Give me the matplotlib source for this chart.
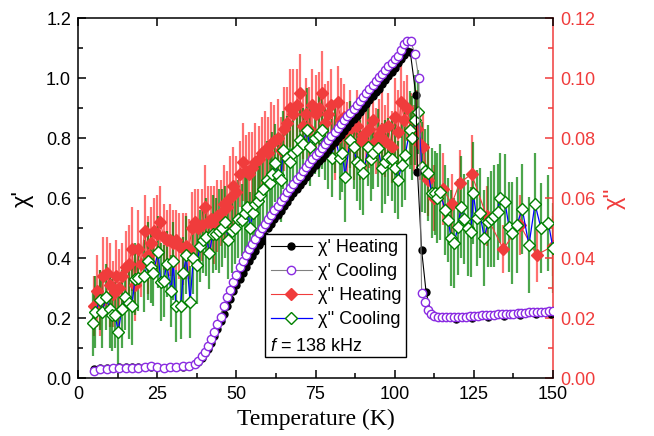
import matplotlib
matplotlib.use("Agg")
import matplotlib.pyplot as plt
from matplotlib.lines import Line2D
from matplotlib.ticker import MultipleLocator

# chi' heating (K, SI units)
T_h = [5, 7, 9, 11, 13, 15, 17, 19, 21, 23, 25, 27, 29, 31, 33, 35,
       37, 38, 39, 40, 41, 42, 43, 44, 45, 46, 47, 48, 49, 50, 51, 52, 53, 54,
       55, 56, 57, 58, 59, 60, 61, 62, 63, 64, 65, 66, 67, 68, 69, 70, 71, 72,
       73, 74, 75, 76, 77, 78, 79, 80, 81, 82, 83, 84, 85, 86, 87, 88, 89, 90,
       91, 92, 93, 94, 95, 96, 97, 98, 99, 100, 101, 102, 103, 104, 104.9,
       106.7, 107.2, 108.5, 109.9, 111.5, 114.5, 119.5, 124.5, 129.5, 134.5,
       139.5, 144.7, 149.5]
chi1_h = [.030, .032, .034, .035, .036, .036, .036, .037, .038, .037, .036, .035, .036, .036, .037, .040,
          .047, .055, .068, .082, .098, .118, .140, .165, .190, .215, .240, .265, .290, .310, .330, .350, .370, .390,
          .408, .425, .442, .458, .474, .500, .515, .529, .544, .558, .573, .587, .602, .616, .631, .645, .658, .671,
          .684, .697, .709, .722, .735, .748, .760, .773, .786, .799, .811, .824, .837, .850, .862, .875, .888, .901,
          .914, .927, .940, .952, .965, .979, .993, 1.007, 1.021, 1.035, 1.049, 1.063, 1.077, 1.090, 1.088,
          .943, .688, .427, .288, .212, .203, .198, .201, .204, .207,
          .210, .212, .214]

# chi' cooling
T_c = [5, 7, 9, 11, 13, 15, 17, 19, 21, 23, 25, 27, 29, 31, 33, 35,
       37, 38, 39, 40, 41, 42, 43, 44, 45, 46, 47, 48, 49, 50, 51, 52, 53, 54,
       55, 56, 57, 58, 59, 60, 61, 62, 63, 64, 65, 66, 67, 68, 69, 70, 71, 72,
       73, 74, 75, 76, 77, 78, 79, 80, 81, 82, 83, 84, 85, 86, 87, 88, 89, 90,
       91, 92, 93, 94, 95, 96, 97, 98, 99, 100, 101, 102, 103, 104, 105,
       106.4, 107.6, 108.5, 109.5, 110.5, 111.5, 112.5, 113.8, 115, 116.3, 117.5,
       118.8, 120, 121.3, 122.5, 123.8, 125, 126.3, 127.5, 128.8, 130, 131.3,
       132.5, 133.8, 135, 136.3, 137.5, 138.8, 140, 141.3, 142.5, 143.8, 145,
       146.3, 147.5, 148.8, 150]
chi1_c = [.025, .030, .031, .032, .033, .033, .034, .035, .037, .040, .036, .034, .036, .038, .039, .041,
          .048, .058, .072, .088, .108, .130, .155, .180, .205, .240, .270, .295, .320, .345, .370, .390, .410, .430,
          .448, .465, .482, .499, .515, .530, .545, .560, .575, .590, .605, .620, .634, .648, .662, .675, .689, .702,
          .716, .729, .742, .755, .768, .781, .794, .807, .820, .833, .846, .859, .872, .885, .898, .911, .924, .937,
          .950, .963, .976, .989, 1.002, 1.015, 1.028, 1.040, 1.050, 1.062, 1.075, 1.093, 1.112, 1.123, 1.125,
          1.080, 1.000, .284, .254, .228, .213, .207, .204, .202, .202, .202,
          .202, .203, .204, .205, .206, .207, .208, .209, .209, .210, .211,
          .212, .213, .214, .215, .215, .216, .217, .218, .219, .219, .220,
          .221, .221, .222, .222]

# chi'' heating
T_hh = list(range(5, 110)) + [110.5, 112.5, 115.3, 118, 120.5, 124.3, 129, 134.3, 139.6, 144.8, 150]
chi2_h = [.024, .029, .025, .034, .035, .031, .028, .034, .030, .034,
          .037, .038, .043, .031, .043, .038, .049, .041, .045, .049,
          .048, .052, .047, .046, .046, .045, .046, .044, .043, .044,
          .043, .050, .052, .050, .051, .057, .052, .053, .051, .054,
          .055, .058, .057, .060, .064, .062, .068, .072, .069, .068,
          .070, .072, .073, .075, .076, .075, .078, .079, .080, .076,
          .083, .085, .090, .088, .091, .095, .084, .088, .083, .091,
          .088, .090, .095, .085, .088, .091, .079, .092, .086, .087,
          .080, .083, .077, .084, .079, .081, .078, .083, .086, .079,
          .081, .083, .079, .084, .077, .087, .082, .092, .086, .090,
          .083, .080, .083, .078, .077,
          .066, .060, .063, .058, .065, .068, .054, .043, .051, .041, .044]
err2_h = [.010, .012, .011, .013, .012, .014, .011, .012, .013, .011,
          .012, .013, .014, .012, .013, .011, .012, .013, .012, .011,
          .013, .012, .011, .010, .012, .011, .010, .011, .012, .011,
          .010, .012, .011, .013, .012, .014, .012, .011, .013, .012,
          .011, .013, .012, .014, .013, .012, .011, .013, .012, .014,
          .012, .013, .011, .012, .013, .012, .014, .012, .013, .011,
          .014, .012, .013, .015, .012, .013, .011, .012, .014, .012,
          .013, .012, .014, .013, .011, .012, .013, .012, .014, .011,
          .012, .013, .011, .012, .013, .012, .011, .013, .012, .011,
          .012, .013, .012, .011, .012, .013, .014, .012, .013, .011,
          .012, .011, .013, .012, .011,
          .012, .011, .012, .010, .011, .013, .010, .008, .010, .009, .010]

# chi'' cooling
T_cc = [4.8, 5.5, 6.9, 7.6, 8.9, 10.0, 10.7, 11.7, 12.7, 13.8,
        14.8, 16.0, 17.0, 18.0, 19.0, 20.9, 22.2, 23.0, 23.7, 25.3,
        26.1, 27.1, 28.0, 29.4, 30.1, 30.9, 32.4, 33.3, 34.2, 35.4,
        36.4, 37.5, 38.5, 39.4, 40.5, 41.5, 42.5, 43.5, 44.5, 45.5,
        46.4, 47.5, 48.6, 49.5, 50.5, 51.8, 52.8, 53.5, 54.3, 55.2,
        55.9, 56.8, 57.5, 58.5, 59.6, 60.5, 61.2, 62.2, 63.2, 64.0,
        64.8, 65.9, 67.0, 68.0, 69.0, 70.1, 71.0, 72.2, 73.3, 74.8,
        76.0, 77.0, 78.0, 79.0, 80.1, 81.2, 82.7, 83.5, 84.3, 85.9,
        87.0, 88.0, 89.0, 90.1, 91.7, 92.5, 93.2, 94.8, 95.9, 97.0,
        98.0, 99.0, 100.0, 101.1, 102.2, 103.3, 104.8, 105.5, 106.4, 107.5,
        108.5, 109.5, 110.6, 111.7, 112.7, 113.5, 114.3, 115.9, 116.9, 117.8,
        118.8, 119.9, 121.0, 122.0, 123.0, 124.1, 124.8, 125.9, 126.9, 128.3,
        129.4, 130.5, 131.5, 132.5, 133.2, 134.8, 136.1, 137.2, 138.5, 140.3,
        142.4, 144.3, 146.2, 148.5, 150.0]
chi2_c = [.0184, .022, .026, .022, .027, .023, .021, .021, .0154, .023,
          .027, .025, .024, .033, .0333, .034, .039, .037, .035, .042,
          .032, .0325, .038, .029, .039, .024, .024, .035, .041, .0255,
          .040, .0377, .044, .046, .047, .0416, .048, .048, .049, .050,
          .052, .046, .049, .050, .053, .0527, .055, .057, .0499, .055,
          .058, .059, .061, .063, .066, .065, .068, .0716, .0677, .066,
          .076, .0732, .072, .075, .076, .0793, .078, .0827, .0771, .080,
          .081, .0827, .078, .0771, .0732, .0804, .0732, .075, .0671, .0793,
          .0771, .0721, .071, .0682, .0771, .073, .0749, .0766, .0699, .072,
          .0738, .073, .070, .066, .071, .0743, .0827, .080, .086, .0888,
          .0704, .069, .0682, .0616, .0616, .060, .0621, .056, .0527, .0466,
          .0449, .0502, .0571, .0529, .0499, .0488, .0618, .0532, .0549, .0466,
          .0521, .053, .054, .0554, .0599, .0588, .0504, .0484, .051, .0562,
          .0443, .058, .0499, .0518, .0432]
err2_c = [.011, .012, .010, .012, .011, .013, .012, .011, .012, .013,
          .011, .012, .013, .012, .011, .012, .013, .012, .011, .012,
          .013, .012, .011, .012, .013, .012, .011, .012, .013, .012,
          .012, .013, .012, .011, .013, .012, .013, .012, .014, .013,
          .012, .013, .014, .012, .013, .012, .014, .013, .012, .013,
          .014, .013, .012, .014, .013, .012, .014, .013, .012, .014,
          .013, .014, .012, .013, .014, .013, .012, .014, .013, .012,
          .014, .013, .012, .014, .013, .012, .014, .013, .015, .013,
          .014, .013, .015, .014, .013, .014, .012, .013, .015, .014,
          .013, .014, .015, .013, .014, .015, .013, .014, .015, .014,
          .015, .014, .016, .015, .014, .015, .016, .015, .014, .016,
          .015, .016, .017, .015, .016, .015, .017, .016, .015, .016,
          .015, .016, .017, .016, .015, .016, .015, .017, .016, .015,
          .016, .017, .015, .016, .015]

RED = "#f03c3c"
PURPLE = "#8a2be2"
GREEN = "#008000"

plt.rcParams["font.family"] = ["Liberation Sans", "DejaVu Sans"]
plt.rcParams["mathtext.fontset"] = "custom"
plt.rcParams["mathtext.it"] = "Liberation Sans:italic"
plt.rcParams["mathtext.rm"] = "Liberation Sans"

fig = plt.figure(figsize=(6.54, 4.36), dpi=100)
ax = fig.add_axes([0.1193, 0.1330, 0.7263, 0.8257])
ax2 = ax.twinx()
ax.set_zorder(ax2.get_zorder() + 1)
ax.patch.set_visible(False)

# chi'' (right axis)
ax2.errorbar(T_hh, chi2_h, yerr=err2_h, fmt="none", ecolor=(1.0, 0.2, 0.2, 0.7),
             elinewidth=1.6, zorder=1)
ax2.errorbar(T_cc, chi2_c, yerr=err2_c, fmt="none", ecolor=(0.0, 0.5, 0.0, 0.7),
             elinewidth=1.6, zorder=1.5)
h3, = ax2.plot(T_hh, chi2_h, "-D", color=RED, lw=0.8, ms=6.5, mec=RED, mfc=RED, zorder=2)
h4, = ax2.plot(T_cc, chi2_c, "-D", color="blue", lw=0.9, ms=6.5, mec=GREEN, mfc="white",
               mew=1.0, zorder=3)

# chi' (left axis)
h1, = ax.plot(T_h, chi1_h, "-o", color="black", lw=0.8, ms=5, mec="black", mfc="black", zorder=3)
h2, = ax.plot(T_c, chi1_c, "-o", color="grey", lw=0.8, ms=6, mec=PURPLE, mfc="white",
              mew=1.0, zorder=4)

ax.set_xlim(0, 150)
ax.set_ylim(0, 1.2)
ax2.set_ylim(0, 0.12)

ax.xaxis.set_major_locator(MultipleLocator(25))
ax.xaxis.set_minor_locator(MultipleLocator(12.5))
ax.yaxis.set_major_locator(MultipleLocator(0.2))
ax.yaxis.set_minor_locator(MultipleLocator(0.1))
ax2.yaxis.set_major_locator(MultipleLocator(0.02))
ax2.yaxis.set_minor_locator(MultipleLocator(0.01))
ax.yaxis.set_major_formatter(plt.FormatStrFormatter("%.1f"))
ax2.yaxis.set_major_formatter(plt.FormatStrFormatter("%.2f"))

ax.tick_params(which="both", direction="in", top=True, right=False, labelsize=13, width=1.1)
ax.tick_params(which="major", length=6, pad=5)
ax.tick_params(which="minor", length=3.5, top=False)
ax.tick_params(axis="x", pad=6)
ax2.tick_params(which="both", direction="in", colors=RED, labelsize=13, width=1.1)
ax2.tick_params(which="major", length=6, pad=5)
ax2.tick_params(which="minor", length=3.5)

for s in ax.spines.values():
    s.set_linewidth(1.1)
ax.spines["right"].set_visible(False)
for name in ("left", "top", "bottom"):
    ax2.spines[name].set_visible(False)
ax2.spines["right"].set_color(RED)
ax2.spines["right"].set_linewidth(1.1)

ax.set_xlabel("Temperature (K)", family="Liberation Serif", fontsize=17, labelpad=4)
ax.set_ylabel("χ'", fontsize=17, labelpad=9)
ax2.set_ylabel("χ''", fontsize=17, color=RED, labelpad=6)

blank = Line2D([], [], color="none")
leg = ax.legend([h1, h2, h3, h4, blank],
                ["χ' Heating", "χ' Cooling", "χ'' Heating", "χ'' Cooling", " "],
                loc="lower left", bbox_to_anchor=(0.394, 0.058), fontsize=13,
                frameon=True, fancybox=False, framealpha=1, edgecolor="black",
                handlelength=2.3, handletextpad=0.3, labelspacing=0.38,
                borderpad=0.3, borderaxespad=0)
leg.get_frame().set_linewidth(1.0)
leg.set_zorder(10)

# the frequency line sits flush left inside the legend box
fig.canvas.draw()
bb = leg.get_window_extent()
inv = ax.transAxes.inverted()
x0, _ = inv.transform((bb.x0 + 5, 0))
_, y0 = inv.transform((0, bb.y0 + 2))
ax.text(x0, y0, "$f$ = 138 kHz", transform=ax.transAxes, fontsize=13,
        ha="left", va="bottom", zorder=11)

fig.savefig("out.png", dpi=100)
